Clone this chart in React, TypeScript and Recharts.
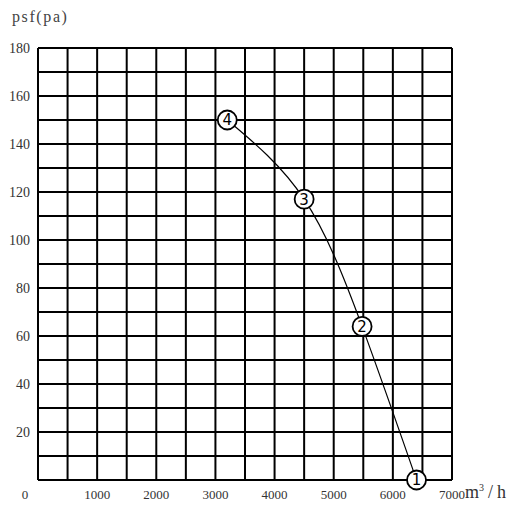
import React from "react";
import { LineChart, Line, XAxis, YAxis, CartesianGrid } from "recharts";

const flowValues = [3200, 4500, 5480, 6400];
const pressureValues = [150, 117, 64, 0];
const pointLabels = ["4", "3", "2", "1"];
const xTicks = [0, 500, 1000, 1500, 2000, 2500, 3000, 3500, 4000, 4500, 5000, 5500, 6000, 6500, 7000];
const yTicks = [0, 10, 20, 30, 40, 50, 60, 70, 80, 90, 100, 110, 120, 130, 140, 150, 160, 170, 180];

const data = flowValues.map((q, i) => ({ q, p: pressureValues[i], label: pointLabels[i] }));

const FONT = "'Liberation Serif', 'DejaVu Serif', serif";
const TICK_COLOR = "#333";

const XTick = (props: any) => {
  const { x, y, payload } = props;
  const v = payload.value;
  if (v % 1000 !== 0) return <g />;
  const dx = v === 0 ? -13 : 0;
  return (
    <text x={x + dx} y={y + 2} dy="0.71em" textAnchor="middle" fontFamily={FONT} fontSize={13} fill={TICK_COLOR}>
      {v}
    </text>
  );
};

const YTick = (props: any) => {
  const { x, y, payload } = props;
  const v = payload.value;
  if (v % 20 !== 0 || v === 0) return <g />;
  return (
    <text x={x} y={y} dy="0.35em" textAnchor="end" fontFamily={FONT} fontSize={14} fill={TICK_COLOR}>
      {v}
    </text>
  );
};

const CircleDot = (props: any) => {
  const { cx, cy, payload, index } = props;
  return (
    <g key={`dot-${index}`}>
      <circle cx={cx} cy={cy} r={9.5} fill="#fff" stroke="#000" strokeWidth={1.8} />
      <text
        x={cx}
        y={cy}
        dy="0.36em"
        textAnchor="middle"
        fontFamily="'DejaVu Sans', sans-serif"
        fontSize={15}
        fill="#000"
      >
        {payload.label}
      </text>
    </g>
  );
};

export default function App() {
  return (
    <div style={{ position: "relative", width: 507, height: 505 }}>
      <LineChart
        width={507}
        height={505}
        data={data}
        margin={{ top: 40, right: 63, bottom: 3, left: 0 }}
      >
        <CartesianGrid stroke="#000" strokeWidth={2} />
        <XAxis
          dataKey="q"
          type="number"
          domain={[0, 7000]}
          ticks={xTicks}
          interval={0}
          height={30}
          axisLine={false}
          tickLine={false}
          tick={<XTick />}
        />
        <YAxis
          type="number"
          domain={[0, 180]}
          ticks={yTicks}
          interval={0}
          width={30}
          axisLine={false}
          tickLine={false}
          tick={<YTick />}
        />
        <Line
          type="natural"
          dataKey="p"
          stroke="#000"
          strokeWidth={1.2}
          dot={<CircleDot />}
          activeDot={false}
          isAnimationActive={false}
        />
      </LineChart>
      <div
        style={{
          position: "absolute",
          left: 4,
          top: 0,
          fontFamily: FONT,
          fontSize: 16,
          letterSpacing: 1.6,
          color: "#444",
          whiteSpace: "nowrap",
        }}
      >
        psf(pa)
      </div>
      <div
        style={{
          position: "absolute",
          left: 457,
          top: 474,
          fontFamily: FONT,
          fontSize: 18,
          color: "#333",
          whiteSpace: "nowrap",
        }}
      >
        m<sup style={{ fontSize: 10 }}>3</sup>
        <span style={{ marginLeft: 4 }}>/</span>
        <span style={{ marginLeft: 4 }}>h</span>
      </div>
    </div>
  );
}
